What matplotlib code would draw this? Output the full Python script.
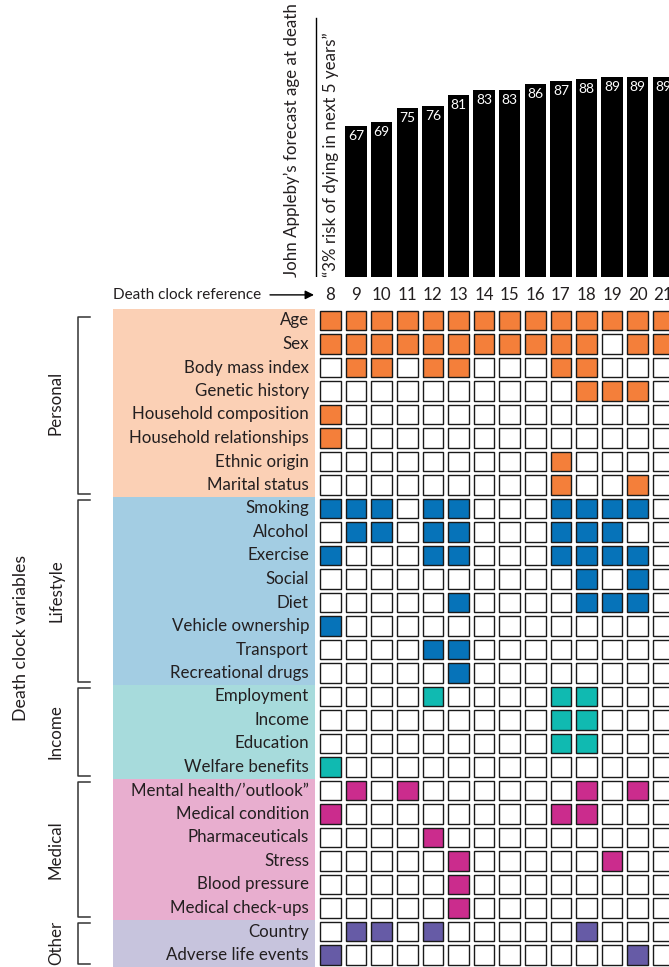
import numpy as np
import matplotlib
matplotlib.use("Agg")
import matplotlib.pyplot as plt
import matplotlib.transforms as mtransforms
from matplotlib.patches import Rectangle

plt.rcParams['font.family'] = ['Lato', 'DejaVu Sans']
TXT = '#231f20'

# ---- data ----
columns = list(range(8, 22))
bar_columns = list(range(9, 22))
forecast_age = [67, 69, 75, 76, 81, 83, 83, 86, 87, 88, 89, 89, 89]

groups = ['Personal', 'Lifestyle', 'Income', 'Medical', 'Other']
variables = {
    'Personal': ['Age', 'Sex', 'Body mass index', 'Genetic history',
                 'Household composition', 'Household relationships',
                 'Ethnic origin', 'Marital status'],
    'Lifestyle': ['Smoking', 'Alcohol', 'Exercise', 'Social', 'Diet',
                  'Vehicle ownership', 'Transport', 'Recreational drugs'],
    'Income': ['Employment', 'Income', 'Education', 'Welfare benefits'],
    'Medical': ['Mental health/\u2019outlook\u201d', 'Medical condition',
                'Pharmaceuticals', 'Stress', 'Blood pressure',
                'Medical check-ups'],
    'Other': ['Country', 'Adverse life events'],
}
#            8  9 10 11 12 13 14 15 16 17 18 19 20 21
personal = [[1, 1, 1, 1, 1, 1, 1, 1, 1, 1, 1, 1, 1, 1],
            [1, 1, 1, 1, 1, 1, 1, 1, 1, 1, 1, 0, 1, 1],
            [0, 1, 1, 0, 1, 1, 0, 0, 0, 1, 1, 0, 0, 0],
            [0, 0, 0, 0, 0, 0, 0, 0, 0, 0, 1, 1, 1, 0],
            [1, 0, 0, 0, 0, 0, 0, 0, 0, 0, 0, 0, 0, 0],
            [1, 0, 0, 0, 0, 0, 0, 0, 0, 0, 0, 0, 0, 0],
            [0, 0, 0, 0, 0, 0, 0, 0, 0, 1, 0, 0, 0, 0],
            [0, 0, 0, 0, 0, 0, 0, 0, 0, 1, 0, 0, 1, 0]]
lifestyle = [[1, 1, 1, 0, 1, 1, 0, 0, 0, 1, 1, 1, 1, 0],
             [0, 1, 1, 0, 1, 1, 0, 0, 0, 1, 1, 1, 0, 0],
             [1, 0, 0, 0, 1, 1, 0, 0, 0, 1, 1, 1, 1, 0],
             [0, 0, 0, 0, 0, 0, 0, 0, 0, 0, 1, 0, 1, 0],
             [0, 0, 0, 0, 0, 1, 0, 0, 0, 0, 1, 1, 1, 0],
             [1, 0, 0, 0, 0, 0, 0, 0, 0, 0, 0, 0, 0, 0],
             [0, 0, 0, 0, 1, 1, 0, 0, 0, 0, 0, 0, 0, 0],
             [0, 0, 0, 0, 0, 1, 0, 0, 0, 0, 0, 0, 0, 0]]
income = [[0, 0, 0, 0, 1, 0, 0, 0, 0, 1, 1, 0, 0, 0],
          [0, 0, 0, 0, 0, 0, 0, 0, 0, 1, 1, 0, 0, 0],
          [0, 0, 0, 0, 0, 0, 0, 0, 0, 1, 1, 0, 0, 0],
          [1, 0, 0, 0, 0, 0, 0, 0, 0, 0, 0, 0, 0, 0]]
medical = [[0, 1, 0, 1, 0, 0, 0, 0, 0, 0, 1, 0, 1, 0],
           [1, 0, 0, 0, 0, 0, 0, 0, 0, 1, 1, 0, 0, 0],
           [0, 0, 0, 0, 1, 0, 0, 0, 0, 0, 0, 0, 0, 0],
           [0, 0, 0, 0, 0, 1, 0, 0, 0, 0, 0, 1, 0, 0],
           [0, 0, 0, 0, 0, 1, 0, 0, 0, 0, 0, 0, 0, 0],
           [0, 0, 0, 0, 0, 1, 0, 0, 0, 0, 0, 0, 0, 0]]
other = [[0, 1, 1, 0, 1, 0, 0, 0, 0, 0, 1, 0, 0, 0],
         [1, 0, 0, 0, 0, 0, 0, 0, 0, 0, 0, 0, 1, 0]]
used = {'Personal': personal, 'Lifestyle': lifestyle, 'Income': income,
        'Medical': medical, 'Other': other}

fill_col = {'Personal': '#f47f3a', 'Lifestyle': '#0673b9', 'Income': '#10bab1',
            'Medical': '#cb2c8d', 'Other': '#665ba6'}
band_col = {'Personal': '#fbd0b5', 'Lifestyle': '#a3cde3', 'Income': '#a7dbdc',
            'Medical': '#e8aecf', 'Other': '#c7c4dd'}

# ---- layout (pixels) ----
W, H = 669, 967
col_pitch, row_pitch = 25.6, 23.5
col8_px, row0_px = 330.5, 320.5
xlim = (8 - col8_px / col_pitch, 8 + (W - col8_px) / col_pitch)
ylim = ((H - row0_px) / row_pitch, -row0_px / row_pitch)
FS = 12.2

fig = plt.figure(figsize=(W / 100, H / 100), dpi=100)
ax = fig.add_axes([0, 0, 1, 1])
ax.set_xlim(*xlim)
ax.set_ylim(*ylim)
ax.axis('off')
blend = mtransforms.blended_transform_factory(ax.transAxes, ax.transData)

row = 0
for g in groups:
    n = len(variables[g])
    top, bot = row - 0.5, row + n - 0.5
    ax.axhspan(top, bot, xmin=113 / W, xmax=315 / W, color=band_col[g], lw=0, zorder=0)
    # bracket
    t_in = 0.37 if g == 'Personal' else 0.12
    ax.plot([90 / W, 77.5 / W, 77.5 / W, 90 / W], [top + t_in, top + t_in, bot - 0.1, bot - 0.1],
            transform=blend, color='#333333', lw=1.1, clip_on=False)
    ax.text(56 / W, (top + bot) / 2, g, transform=blend, rotation=90, ha='center',
            va='center', fontsize=FS, color=TXT)
    for i, name in enumerate(variables[g]):
        r = row + i
        ax.text(309 / W, r, name, transform=blend, ha='right', va='center',
                fontsize=FS, color=TXT)
        for c, flag in zip(columns, used[g][i]):
            ax.add_patch(Rectangle((c - 0.4, r - 0.41), 0.8, 0.82,
                                   facecolor=fill_col[g] if flag else 'white',
                                   edgecolor='#1a1a1a', lw=1.0, zorder=2))
    row += n

ax.text(21 / W, (row - 1) / 2, 'Death clock variables', transform=blend, rotation=90,
        ha='center', va='center', fontsize=12.8, color=TXT)

# column reference numbers
ref_y = -1.09
for c in columns:
    ax.text(c, ref_y, str(c), ha='center', va='center', fontsize=FS, color=TXT)
ax.text(113 / W, ref_y, 'Death clock reference', transform=blend, ha='left',
        va='center', fontsize=11, color=TXT)
ax.annotate('', xy=(314 / W, ref_y), xytext=(270 / W, ref_y), xycoords=blend,
            textcoords=blend, arrowprops=dict(arrowstyle='-|>', color='black', lw=1.0,
                                              mutation_scale=13, shrinkA=0, shrinkB=0))

# ---- bars ----
base_px = 277
bax = fig.add_axes([0, (H - base_px) / H, 1, base_px / H])
bax.set_xlim(*xlim)
bax.set_ylim(0, base_px / 2.25)
bax.axis('off')
bax.bar(bar_columns, forecast_age, width=0.84, color='black')
for c, v in zip(bar_columns, forecast_age):
    bax.text(c, v - 4.5, str(v), ha='center', va='center', color='white', fontsize=10)

bblend = mtransforms.blended_transform_factory(bax.transAxes, bax.transData)
bax.plot([316 / W, 316 / W], [0, (base_px - 18) / 2.25], transform=bblend,
         color='black', lw=1.0)
bax.text(292 / W, 0, 'John Appleby\u2019s forecast age at death', transform=bblend,
         rotation=90, ha='center', va='bottom', fontsize=FS, color=TXT)
bax.text(331 / W, 0, '\u201c3% risk of dying in next 5 years\u201d', transform=bblend,
         rotation=90, ha='center', va='bottom', fontsize=FS, color=TXT)

fig.savefig('out.png', dpi=100)
